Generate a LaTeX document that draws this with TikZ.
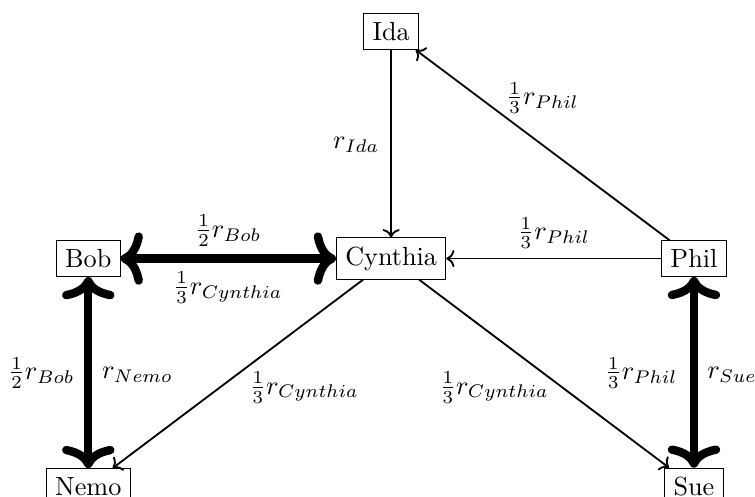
\documentclass[tikz,border=0pt]{standalone}
\usetikzlibrary{arrows.meta}
\begin{document}
\begin{tikzpicture}[
  box/.style={draw, line width=0.4pt},
  edge/.style={->, line width=0.7pt},
  bold/.style={{Computer Modern Rightarrow[length=8.5pt,width=20pt]}-{Computer Modern Rightarrow[length=8.5pt,width=20pt]}, line width=3.2pt},
  lab/.style={inner sep=0pt}
]
\useasboundingbox (-149.3pt,-91.0pt) rectangle (138.9pt,98.7pt);
\node[box] (C) at (0,0) {Cynthia};
\node[box] (B) at (-115.6pt,0) {Bob};
\node[box] (P) at (115.6pt,0) {Phil};
\node[box] (I) at (0,86.7pt) {Ida};
\node[box] (N) at (-115.6pt,-87pt) {Nemo};
\node[box] (S) at (115.6pt,-87pt) {Sue};

\draw[bold] (B) -- (C);
\draw[bold] (B) -- (N);
\draw[bold] (P) -- (S);
\draw[edge] (I) -- (C);
\draw[edge] (P) -- (I);
\draw[edge] (P) -- (C);
\draw[edge] (C) -- (N);
\draw[edge] (C) -- (S);

\node[lab] (l1) at (-62.2pt,10.7pt) {$\frac{1}{2}r_{Bob}$};
\node[lab] (l2) at (-62.3pt,-11.1pt) {$\frac{1}{3}r_{Cynthia}$};
\node[lab, anchor=east] (l3) at (-120.7pt,-43.6pt) {$\frac{1}{2}r_{Bob}$};
\node[lab, anchor=west] (l4) at (-110.5pt,-44.3pt) {$r_{Nemo}$};
\node[lab, anchor=east] (l5) at (-4.3pt,43.5pt) {$r_{Ida}$};
\node[lab] (l6) at (57.8pt,61.3pt) {$\frac{1}{3}r_{Phil}$};
\node[lab] (l7) at (62.1pt,9.8pt) {$\frac{1}{3}r_{Phil}$};
\node[lab] (l8) at (-33.2pt,-49.2pt) {$\frac{1}{3}r_{Cynthia}$};
\node[lab] (l9) at (39.3pt,-49.2pt) {$\frac{1}{3}r_{Cynthia}$};
\node[lab, anchor=east] (l10) at (109.5pt,-43.6pt) {$\frac{1}{3}r_{Phil}$};
\node[lab, anchor=west] (l11) at (120.5pt,-44.3pt) {$r_{Sue}$};
\end{tikzpicture}
\end{document}
